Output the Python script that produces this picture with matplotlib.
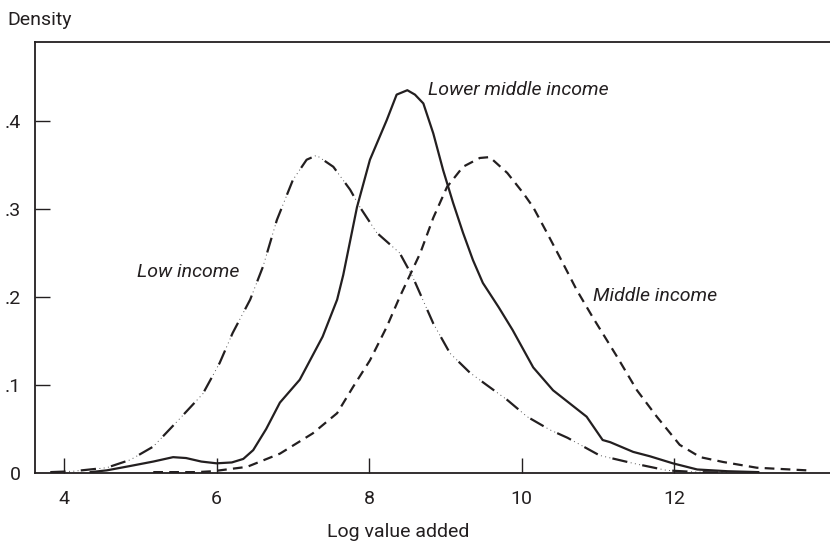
import numpy as np
import matplotlib
matplotlib.use("Agg")
import matplotlib.pyplot as plt

plt.rcParams['font.family'] = ['Roboto', 'DejaVu Sans']
plt.rcParams['lines.scale_dashes'] = False

# densidades
low_x = [3.82, 4.12, 4.56, 4.87, 5.17, 5.52, 5.82, 6.04, 6.21, 6.44, 6.61, 6.79, 7.0, 7.18, 7.31,
         7.53, 7.75, 7.88, 8.1, 8.4, 8.57, 8.84, 9.06, 9.32, 9.54, 9.81, 10.07, 10.37, 10.6,
         11.02, 11.46, 11.9, 12.3, 12.7]
low_y = [0.001, 0.002, 0.006, 0.015, 0.03, 0.062, 0.09, 0.125, 0.159, 0.197, 0.235, 0.2875, 0.333,
         0.356, 0.361, 0.348, 0.322, 0.302, 0.273, 0.25, 0.223, 0.17, 0.136, 0.114, 0.1, 0.083,
         0.064, 0.049, 0.04, 0.02, 0.011, 0.003, 0.001, 0.0005]

lowmid_x = [4.35, 4.56, 4.87, 5.17, 5.43, 5.6, 5.8, 6.0, 6.2, 6.35, 6.48, 6.65, 6.83, 7.09, 7.39,
            7.58, 7.66, 7.84, 8.01, 8.23, 8.36, 8.5, 8.6, 8.71, 8.84, 8.97, 9.1, 9.23, 9.36, 9.49,
            9.7, 9.88, 10.15, 10.41, 10.85, 11.06, 11.16, 11.46, 11.68, 11.98, 12.3, 12.7, 13.1]
lowmid_y = [0.001, 0.003, 0.008, 0.013, 0.018, 0.017, 0.013, 0.011, 0.012, 0.016, 0.026, 0.05,
            0.08, 0.106, 0.155, 0.197, 0.225, 0.302, 0.356, 0.401, 0.43, 0.435, 0.43, 0.42, 0.386,
            0.344, 0.307, 0.273, 0.242, 0.216, 0.188, 0.1625, 0.12, 0.094, 0.064, 0.0375, 0.035,
            0.024, 0.019, 0.011, 0.004, 0.002, 0.001]

mid_x = [5.17, 5.74, 5.95, 6.4, 6.83, 7.26, 7.58, 7.79, 8.01, 8.23, 8.4, 8.67, 8.84, 9.02, 9.23,
         9.45, 9.58, 9.81, 10.02, 10.15, 10.33, 10.5, 10.72, 10.93, 11.25, 11.51, 11.77, 12.07,
         12.34, 12.64, 13.08, 13.74]
mid_y = [0.001, 0.001, 0.002, 0.007, 0.022, 0.045, 0.068, 0.098, 0.128, 0.166, 0.2, 0.25, 0.29,
         0.325, 0.348, 0.358, 0.359, 0.341, 0.318, 0.302, 0.273, 0.245, 0.208, 0.177, 0.132,
         0.094, 0.064, 0.032, 0.018, 0.0125, 0.006, 0.003]

x_ticks = [4, 6, 8, 10, 12]
y_ticks = [0, 0.1, 0.2, 0.3, 0.4]
y_ticklabels = ['0', '.1', '.2', '.3', '.4']

ink = '#231f20'
fs = 14

fig = plt.figure(figsize=(8.3, 5.43), dpi=100)
ax = fig.add_axes([35/830, 1 - 473/543, 1 - 35/830, (473 - 42)/543])

# low income: raya larga + puntitos (dos líneas superpuestas)
ax.plot(low_x, low_y, color=ink, lw=1.6, ls=(0, (11, 11)), solid_joinstyle='round')
ax.plot(low_x, low_y, color='#555555', lw=0.7, ls=(8.5, (0.7, 2.4, 0.7, 2.4, 0.7, 15.1)))
# lower middle income: sólida
ax.plot(lowmid_x, lowmid_y, color=ink, lw=1.6, solid_joinstyle='round')
# middle income: rayas
ax.plot(mid_x, mid_y, color=ink, lw=1.6, ls=(0, (7, 4.5)))

ax.set_xlim(3.62, 14.04)
ax.set_ylim(0, 0.4898)

ax.spines['right'].set_visible(False)
for sp in ['left', 'top', 'bottom']:
    ax.spines[sp].set_color(ink)
    ax.spines[sp].set_linewidth(1.3)

ax.set_xticks(x_ticks)
ax.set_xticklabels([str(t) for t in x_ticks])
ax.set_yticks(y_ticks)
ax.set_yticklabels(y_ticklabels)
ax.tick_params(axis='both', direction='in', length=11, width=1.0, color=ink,
               labelsize=fs, labelcolor=ink)
ax.tick_params(axis='x', pad=12)
ax.tick_params(axis='y', pad=10)
# el 0 del eje y no lleva marca visible
ax.yaxis.get_major_ticks()[0].tick1line.set_visible(False)

ax.text(4.957, 0.2284, 'Low income', style='italic', fontsize=fs, color=ink, va='center')
ax.text(8.77, 0.435, 'Lower middle income', style='italic', fontsize=fs, color=ink, va='center')
ax.text(10.93, 0.201, 'Middle income', style='italic', fontsize=fs, color=ink, va='center')

fig.text(7/830, 1 - 20/543, 'Density', fontsize=fs, color=ink, va='center', ha='left')
fig.text(398/830, 1 - 532/543, 'Log value added', fontsize=fs, color=ink, va='center', ha='center')

fig.savefig('out.png', dpi=100)
